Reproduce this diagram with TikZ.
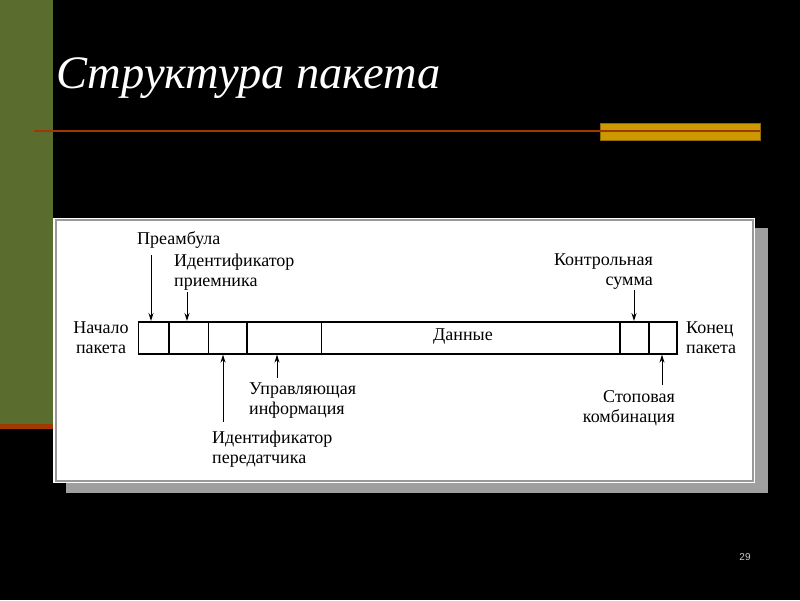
\documentclass[tikz,border=0pt]{standalone}
\usepackage{fontspec}
\setmainfont{Liberation Serif}
\newfontfamily\numfont{Liberation Sans}
\usepackage{tikz}
\usetikzlibrary{arrows.meta}
\definecolor{barGreen}{RGB}{91,109,46}
\definecolor{rustLine}{RGB}{160,56,0}
\definecolor{goldBar}{RGB}{204,153,0}
\tikzset{
	cell/.style={draw,line width=1.6pt,inner sep=0pt,minimum height=32pt,anchor=north west},
	lbl/.style={inner sep=0pt,font=\fontsize{18}{20}\selectfont},
	arr/.style={line width=1pt,-{Stealth[length=8pt,width=5pt]}}
}

\begin{document}
\begin{tikzpicture}[x=1pt,y=-1pt]
					\useasboundingbox (0,0) rectangle (800,600);
					\fill[black] (0,0) rectangle (800,600);
					\fill[barGreen] (0,0) rectangle (53,424);
					\fill[rustLine] (0,424) rectangle (53,429);

					\node[anchor=base west,inner sep=0pt,text=white,font=\fontsize{46.5}{50}\selectfont\itshape] (title) at (56,88) {Структура пакета};
					\fill[goldBar,draw=goldBar!70!black,line width=0.6pt] (600,123) rectangle (760,140);
					\draw[rustLine,line width=2pt] (34,131) -- (760,131);

					\fill[gray!75] (66,228) rectangle (768,493);
					\fill[white] (53,218) rectangle (755,483);
					\draw[gray!80,line width=1.2pt] (56,220) rectangle (753,481);

					\node[cell,minimum width=30.3pt] (c1) at (137.7,321) {};
					\node[cell,minimum width=39.7pt] (c2) at (168,321) {};
					\node[cell,minimum width=38.3pt] (c3) at (207.7,321) {};
					\node[cell,minimum width=74.7pt] (c4) at (246,321) {};
					\node[cell,minimum width=298.3pt] (c5) at (320.7,321) {};
					\node[cell,minimum width=29pt] (c6) at (619,321) {};
					\node[cell,minimum width=28pt] (c7) at (648,321) {};

					\node[lbl] (data) at (463,337) {Данные};
					\node[lbl,align=center] (start) at (101,337.5) {Начало\\пакета};
					\node[lbl,align=left,anchor=west] (fin) at (686,337.5) {Конец\\пакета};
					\node[lbl,anchor=west] (pre) at (137,240) {Преамбула};
					\node[lbl,align=left,anchor=west] (rcv) at (174,272.5) {Идентификатор\\приемника};
					\node[lbl,align=left,anchor=west] (ctl) at (249,400.5) {Управляющая\\информация};
					\node[lbl,align=left,anchor=west] (snd) at (212,449.5) {Идентификатор\\передатчика};
					\node[lbl,align=right,anchor=east] (crc) at (653,272) {Контрольная\\сумма};
					\node[lbl,align=right,anchor=east] (stop) at (675,408.5) {Стоповая\\комбинация};

					\coordinate (p1) at (151,255);
					\coordinate (p2) at (187,292);
					\coordinate (p3) at (223,422);
					\coordinate (p4) at (277,378);
					\coordinate (p5) at (634,290);
					\coordinate (p6) at (662,385);

					\draw[arr] (p1) -- (p1 |- c1.north);
					\draw[arr] (p2) -- (p2 |- c2.north);
					\draw[arr] (p3) -- (p3 |- c3.south);
					\draw[arr] (p4) -- (p4 |- c4.south);
					\draw[arr] (p5) -- (p5 |- c6.north);
					\draw[arr] (p6) -- (p6 |- c7.south);

					\node[inner sep=0pt,text=gray!40,font=\numfont\fontsize{10}{12}\selectfont] (page) at (745,557) {29};
				\end{tikzpicture}
\end{document}
